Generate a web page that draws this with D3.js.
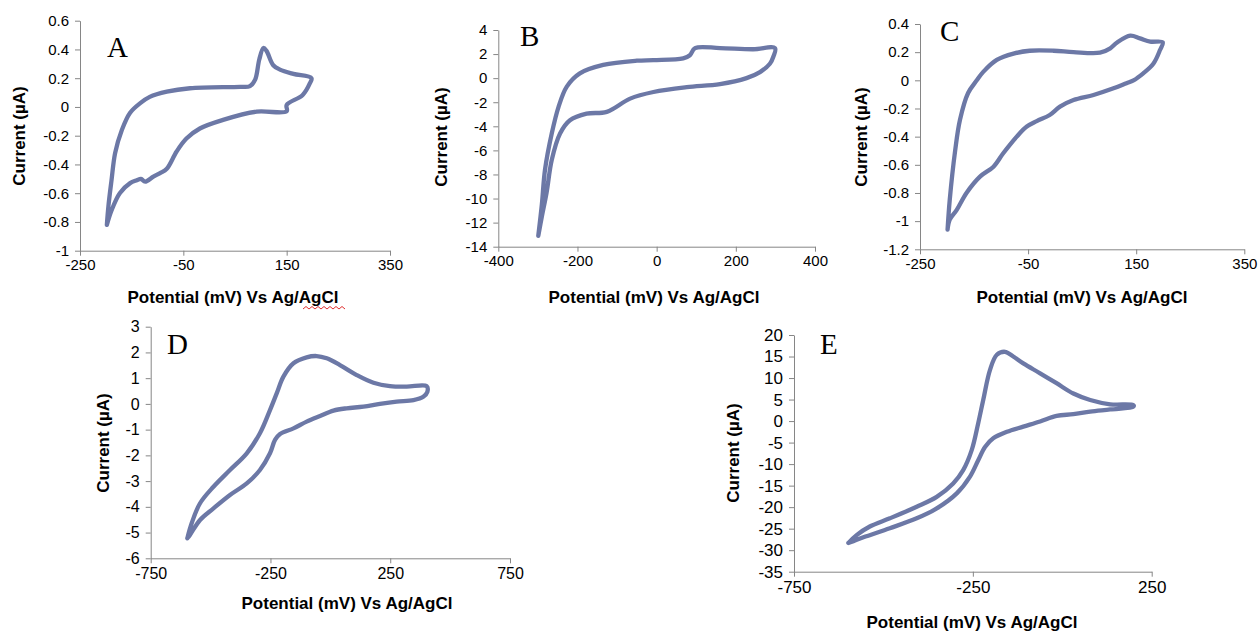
<!DOCTYPE html>
<html>
<head>
<meta charset="utf-8">
<script src="https://d3js.org/d3.v7.min.js"></script>
<style>
  body { margin: 0; background: #fff; }
  .tick text { font-family: "Liberation Sans", Arial, sans-serif; fill: #000; }
  .domain, .tick line { stroke: #868686; }
  .ttl { font-family: "Liberation Sans", Arial, sans-serif; font-weight: bold; fill: #000; }
  .letter { font-family: "Liberation Serif", "Times New Roman", serif; fill: #000; }
</style>
</head>
<body>
<script>
// ---- data (potential in mV, current in uA) ----
var aPotential = [-198, -195, -189, -182, -169, -153, -134, -115, -82, -37, 60, 79, 89, 97, 105, 111, 124, 137, 163, 198,
                  195, 181, 150, 150, 92, 27, -18, -44, -63, -82, -95, -108, -124, -132, -140, -153, -173, -189, -198];
var aCurrent = [-0.82, -0.69, -0.51, -0.32, -0.16, -0.04, 0.025, 0.07, 0.106, 0.13, 0.14, 0.145, 0.19, 0.33, 0.41, 0.39, 0.29, 0.26, 0.23, 0.20,
                0.165, 0.083, 0.014, -0.03, -0.033, -0.09, -0.15, -0.22, -0.31, -0.43, -0.46, -0.485, -0.52, -0.50, -0.51, -0.53, -0.60, -0.72, -0.82];

var bPotential = [-299, -290, -282, -265, -248, -227, -194, -135, -50, -8, 67, 84, 97, 160, 244, 299,
                  295, 286, 261, 227, 160, 76, -8, -67, -126, -177, -219, -244, -265, -278, -290, -299];
var bCurrent = [-13.1, -10.5, -7.6, -4.6, -2.4, -0.7, 0.4, 1.1, 1.45, 1.5, 1.65, 1.9, 2.5, 2.5, 2.4, 2.5,
                1.8, 1.2, 0.5, 0.0, -0.5, -0.75, -1.15, -1.7, -2.8, -2.95, -3.5, -4.6, -6.8, -9.5, -11.5, -13.1];

var cPotential = [-199, -195, -185, -176, -161, -145, -133, -108, -77, -47, -3, 34, 83, 102, 114, 139, 157, 176, 199,
                  194, 182, 163, 145, 132, 108, 71, 34, 9, -10, -34, -53, -71, -96, -114, -139, -164, -182, -195, -199];
var cCurrent = [-1.06, -0.85, -0.50, -0.28, -0.09, 0.0, 0.06, 0.145, 0.19, 0.21, 0.21, 0.20, 0.196, 0.227, 0.267, 0.317, 0.298, 0.275, 0.27,
                0.215, 0.12, 0.05, 0.0, -0.02, -0.057, -0.104, -0.14, -0.187, -0.246, -0.29, -0.33, -0.40, -0.518, -0.613, -0.684, -0.80, -0.92, -0.99, -1.06];

var dPotential = [-597, -579, -544, -488, -419, -349, -294, -252, -224, -196, -154, -99, -57, -15, 40, 110, 180, 249, 319, 402,
                  405, 388, 347, 277, 207, 138, 68, 13, -43, -99, -154, -210, -231, -252, -294, -349, -419, -488, -544, -586, -597];
var dCurrent = [-5.22, -4.64, -3.86, -3.22, -2.57, -1.92, -1.14, -0.24, 0.41, 1.06, 1.58, 1.81, 1.86, 1.77, 1.51, 1.12, 0.82, 0.69, 0.67, 0.69,
                0.47, 0.28, 0.15, 0.09, 0.0, -0.11, -0.17, -0.26, -0.47, -0.69, -0.95, -1.17, -1.40, -1.92, -2.57, -3.09, -3.54, -4.06, -4.51, -5.09, -5.22];

var ePotential = [-598, -575, -538, -482, -407, -351, -305, -277, -253, -235, -221, -202, -183, -160, -137, -109, -62, -16, 31, 78, 134, 199,
                  199, 134, 78, 31, -16, -62, -109, -155, -193, -216, -235, -258, -295, -351, -407, -482, -556, -584, -598];
var eCurrent = [-28.3, -26.5, -24.5, -22.6, -19.9, -17.6, -14.5, -11.4, -6.7, -0.5, 4.9, 11.9, 15.4, 16.1, 15.0, 13.4, 11.1, 8.8, 6.4, 4.9, 3.9, 3.7,
                3.35, 2.7, 2.2, 1.6, 1.2, -0.1, -1.3, -2.5, -4.0, -6.0, -9.1, -12.9, -16.8, -20.3, -22.6, -24.9, -27.0, -27.9, -28.3];

// tick labels
var aXTicks = [-250, -50, 150, 350], aYTicks = [0.6, 0.4, 0.2, 0, -0.2, -0.4, -0.6, -0.8, -1];
var bXTicks = [-400, -200, 0, 200, 400], bYTicks = [4, 2, 0, -2, -4, -6, -8, -10, -12, -14];
var cXTicks = [-250, -50, 150, 350], cYTicks = [0.4, 0.2, 0, -0.2, -0.4, -0.6, -0.8, -1, -1.2];
var dXTicks = [-750, -250, 250, 750], dYTicks = [3, 2, 1, 0, -1, -2, -3, -4, -5, -6];
var eXTicks = [-750, -250, 250], eYTicks = [20, 15, 10, 5, 0, -5, -10, -15, -20, -25, -30, -35];

var xTitle = "Potential (mV) Vs Ag/AgCl", yTitle = "Current (µA)";

var W = 1258, H = 632;
var svg = d3.select("body").append("svg").attr("width", W).attr("height", H);

// panel frames (pixel placement)
var panels = [
  {tag: "A", px: aPotential, cur: aCurrent, xt: aXTicks, yt: aYTicks, l: 80, r: 390, t: 20.7, b: 250.7, fs: 15,
   letter: [107, 57], xT: [233, 303], yT: [19, 136]},
  {tag: "B", px: bPotential, cur: bCurrent, xt: bXTicks, yt: bYTicks, l: 498.3, r: 815, t: 30, b: 246.7, fs: 15,
   letter: [520, 46], xT: [654, 303], yT: [441, 137]},
  {tag: "C", px: cPotential, cur: cCurrent, xt: cXTicks, yt: cYTicks, l: 920, r: 1244.3, t: 24, b: 249.3, fs: 15,
   letter: [940, 41], xT: [1082, 303], yT: [861, 137]},
  {tag: "D", px: dPotential, cur: dCurrent, xt: dXTicks, yt: dYTicks, l: 150.7, r: 510, t: 326.7, b: 558.3, fs: 16,
   letter: [167, 354], xT: [347, 609], yT: [103, 443]},
  {tag: "E", px: ePotential, cur: eCurrent, xt: eXTicks, yt: eYTicks, l: 794, r: 1151.7, t: 335, b: 571.7, fs: 17,
   letter: [820, 354], xT: [972, 628], yT: [733, 453]}
];

var fmt = function(d) { return String(+d.toFixed(2)); };

panels.forEach(function(p) {
  var x = d3.scaleLinear().domain(d3.extent(p.xt)).range([p.l, p.r]);
  var y = d3.scaleLinear().domain(d3.extent(p.yt)).range([p.b, p.t]);
  var g = svg.append("g");

  g.append("g").attr("transform", "translate(0," + p.b + ")")
    .call(d3.axisBottom(x).tickValues(p.xt).tickFormat(fmt).tickSize(5).tickSizeOuter(0).tickPadding(4))
    .selectAll("text").style("font-size", p.fs + "px");
  g.append("g").attr("transform", "translate(" + p.l + ",0)")
    .call(d3.axisLeft(y).tickValues(p.yt).tickFormat(fmt).tickSize(5).tickSizeOuter(0).tickPadding(6))
    .selectAll("text").style("font-size", p.fs + "px");
  g.selectAll(".domain").attr("stroke", "#868686");

  var pts = p.px.map(function(v, i) { return [v, p.cur[i]]; });
  g.append("path").datum(pts)
    .attr("d", d3.line().x(function(d) { return x(d[0]); }).y(function(d) { return y(d[1]); })
      .curve(d3.curveCatmullRom.alpha(0.5)))
    .attr("fill", "none").attr("stroke", "#6c78a6").attr("stroke-width", 4.3)
    .attr("stroke-linejoin", "round").attr("stroke-linecap", "round");

  g.append("text").attr("class", "letter").attr("x", p.letter[0]).attr("y", p.letter[1])
    .style("font-size", "29px").text(p.tag);
  g.append("text").attr("class", "ttl").attr("x", p.xT[0]).attr("y", p.xT[1])
    .attr("text-anchor", "middle").style("font-size", "17px").text(xTitle);
  g.append("text").attr("class", "ttl")
    .attr("transform", "translate(" + (p.yT[0] + 6) + "," + p.yT[1] + ") rotate(-90)")
    .attr("text-anchor", "middle").style("font-size", "17px").text(yTitle);
});

// spell-check squiggle under "AgCl" in panel A
var sq = d3.range(0, 15).map(function(i) { return [303 + i * 3, i % 2 ? 306.5 : 309]; });
svg.append("path").attr("d", d3.line()(sq)).attr("fill", "none").attr("stroke", "#e03030").attr("stroke-width", 1);
</script>
</body>
</html>
